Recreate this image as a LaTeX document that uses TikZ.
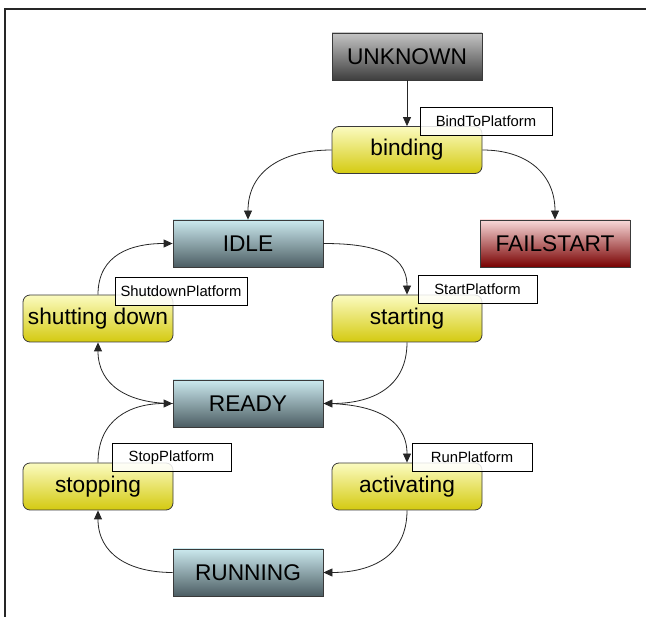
\documentclass[tikz,border=0pt]{standalone}
\usepackage{fontspec}
\setmainfont{Liberation Sans}
\usetikzlibrary{arrows.meta}
\definecolor{yelTop}{HTML}{FBFBC0}
\definecolor{yelBot}{HTML}{D4CA10}
\definecolor{tealTop}{HTML}{CBE9EE}
\definecolor{tealBot}{HTML}{4C5D63}
\definecolor{grayTop}{HTML}{C4C4C4}
\definecolor{grayBot}{HTML}{3E3E3E}
\definecolor{redTop}{HTML}{F9D9D9}
\definecolor{redBot}{HTML}{780000}
\definecolor{rim}{HTML}{3A3A3A}
\begin{document}
\begin{tikzpicture}[x=1pt,y=-1pt,
  state/.style={draw=rim, line width=0.8pt, minimum width=150pt, minimum height=47pt,
    inner sep=0pt, text=black, font=\fontsize{22.7}{26}\selectfont},
  activity/.style={state, rounded corners=7pt, top color=yelTop, bottom color=yelBot},
  stable/.style={state, top color=tealTop, bottom color=tealBot},
  initial/.style={state, top color=grayTop, bottom color=grayBot},
  failure/.style={state, top color=redTop, bottom color=redBot},
  trigger/.style={draw=black, line width=0.8pt, fill=white, fill opacity=0.85, text opacity=1,
    inner sep=0pt, minimum height=28pt, font=\fontsize{14.8}{17}\selectfont},
  trans/.style={draw=black!85, line width=0.8pt, -{Triangle[length=9pt,width=8pt]}}
]
\useasboundingbox (0,0) rectangle (646,617);
% frame
\draw[line width=2pt, black!85] (5,617) -- (5,9) -- (646,9);

% states
\node[initial]  (unknown)   at (407,56.5)  {UNKNOWN};
\node[activity] (binding)   at (407,150)   {binding};
\node[stable]   (idle)      at (248,243.5) {IDLE};
\node[failure]  (failstart) at (555,243.5) {FAILSTART};
\node[activity] (shutting)  at (98,318.5)  {shutting down};
\node[activity] (starting)  at (407,318.5) {starting};
\node[stable]   (ready)     at (248,403.5) {READY};
\node[activity] (stopping)  at (98,486.5)  {stopping};
\node[activity] (activating) at (407,486.5) {activating};
\node[stable]   (running)   at (248,572.5) {RUNNING};

% transitions
\draw[trans] (unknown.south) -- (binding.north);
\draw[trans] (binding.west) to[out=180,in=90,looseness=1.15] (idle.north);
\draw[trans] (binding.east) to[out=0,in=90,looseness=1.15] (failstart.north);
\draw[trans] (idle.east) to[out=0,in=90,looseness=1.15] (starting.north);
\draw[trans] (starting.south) to[out=-90,in=0,looseness=1.15] (ready.east);
\draw[trans] (ready.east) to[out=0,in=90,looseness=1.15] (activating.north);
\draw[trans] (activating.south) to[out=-90,in=0,looseness=1.15] (running.east);
\draw[trans] (running.west) to[out=180,in=-90,looseness=1.15] (stopping.south);
\draw[trans] (stopping.north) to[out=90,in=180,looseness=1.15] (ready.west);
\draw[trans] (ready.west) to[out=180,in=-90,looseness=1.15] (shutting.south);
\draw[trans] (shutting.north) to[out=90,in=180,looseness=1.15] (idle.west);

% trigger labels
\node[trigger, minimum width=132pt] (tBind)  at (486,121)    {BindToPlatform};
\node[trigger, minimum width=132pt] (tShut)  at (181,291.5)  {ShutdownPlatform};
\node[trigger, minimum width=119pt] (tStart) at (477.5,289)  {StartPlatform};
\node[trigger, minimum width=119pt] (tStop)  at (171.5,457.5) {StopPlatform};
\node[trigger, minimum width=120pt] (tRun)   at (472,457)    {RunPlatform};
\end{tikzpicture}
\end{document}
